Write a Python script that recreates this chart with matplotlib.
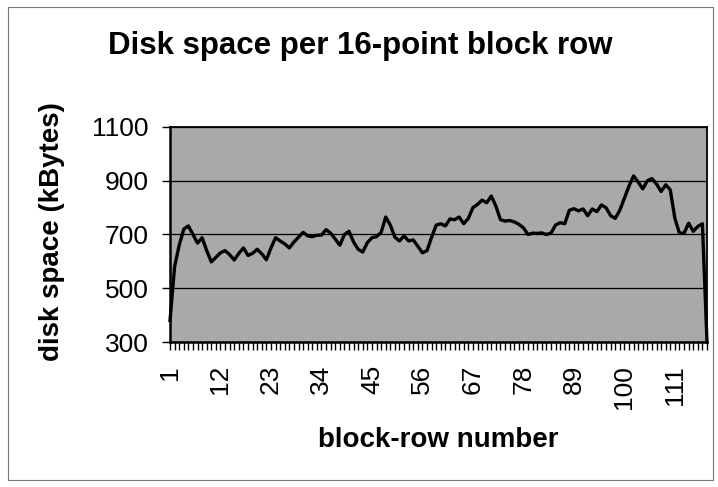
import matplotlib
matplotlib.use("Agg")
import matplotlib.pyplot as plt
from matplotlib.patches import Rectangle
from matplotlib.ticker import MultipleLocator, FixedLocator

plt.rcParams['font.family'] = ['Liberation Sans', 'DejaVu Sans']

title = "Disk space per 16-point block row"
xlabel = "block-row number"
ylabel = "disk space (kBytes)"

disk_space = [
    380, 580, 660, 720, 732, 700, 668, 688, 640, 598,
    615, 632, 640, 625, 605, 630, 650, 622, 630, 645,
    628, 606, 650, 688, 676, 665, 650, 672, 690, 708,
    695, 692, 697, 698, 718, 705, 683, 660, 700, 712,
    672, 645, 635, 670, 688, 692, 708, 765, 735, 690,
    676, 695, 676, 680, 656, 632, 640, 690, 735, 740,
    732, 758, 755, 765, 740, 760, 800, 812, 828, 818,
    843, 806, 755, 750, 752, 747, 738, 725, 700, 705,
    704, 706, 700, 705, 735, 744, 740, 790, 796, 788,
    795, 770, 795, 785, 810, 800, 770, 760, 790, 835,
    880, 918, 895, 870, 900, 908, 888, 860, 885, 866,
    760, 705, 705, 742, 712, 730, 740, 300,
]
block_rows = list(range(1, len(disk_space) + 1))
xtick_labels = [1, 12, 23, 34, 45, 56, 67, 78, 89, 100, 111]
ytick_labels = [300, 500, 700, 900, 1100]

W, H = 718, 487
fig = plt.figure(figsize=(W / 100, H / 100), dpi=100)
fig.patch.set_facecolor('white')

# outer chart frame
fig.patches.append(Rectangle((8 / W, 7 / H), (713 - 8) / W, (480 - 7) / H,
                             transform=fig.transFigure, fill=False,
                             edgecolor='#777777', linewidth=0.8))

left, right, top, bottom = 170, 707, 127, 342
ax = fig.add_axes([left / W, 1 - bottom / H, (right - left) / W, (bottom - top) / H])
ax.set_facecolor('#a9a9a9')

ax.plot(block_rows, disk_space, color='black', linewidth=2.4, solid_joinstyle='round',
        clip_on=False, zorder=3)

ax.set_xlim(1, len(disk_space))
ax.set_ylim(300, 1100)

ax.yaxis.set_major_locator(FixedLocator(ytick_labels))
ax.set_yticklabels([str(v) for v in ytick_labels])
ax.grid(axis='y', color='black', linewidth=0.9)
ax.set_axisbelow(True)

ax.xaxis.set_major_locator(FixedLocator(xtick_labels))
ax.set_xticklabels([str(v) for v in xtick_labels], rotation=90, va='top', ha='center')
ax.xaxis.set_minor_locator(MultipleLocator(1))

ax.tick_params(axis='x', which='both', direction='out', length=5.5, width=1.0,
               labelsize=19, pad=11)
ax.tick_params(axis='y', which='major', direction='out', length=5.5, width=1.0,
               labelsize=19, pad=10)

for s in ax.spines.values():
    s.set_color('black')
    s.set_linewidth(1.3)
ax.spines['left'].set_linewidth(1.8)
ax.spines['bottom'].set_linewidth(1.8)

fig.text(360 / W, 1 - 46 / H, title, ha='center', va='center',
         fontsize=22.5, fontweight='bold')
fig.text(438 / W, 1 - 440 / H, xlabel, ha='center', va='center',
         fontsize=20, fontweight='bold')
fig.text(52 / W, 1 - 232 / H, ylabel, ha='center', va='center', rotation=90,
         fontsize=20, fontweight='bold')

fig.savefig('out.png', dpi=100)
